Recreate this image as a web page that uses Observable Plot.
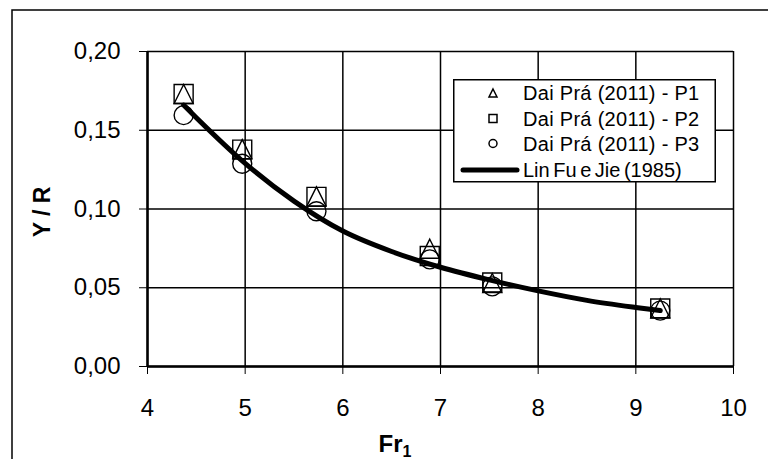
<!DOCTYPE html>
<html><head><meta charset="utf-8">
<script src="https://cdn.jsdelivr.net/npm/d3@7"></script>
<script src="https://cdn.jsdelivr.net/npm/@observablehq/plot@0.6"></script>
<style>
html,body{margin:0;padding:0;background:#fff;}
#wrap{position:relative;width:768px;height:459px;overflow:hidden;font-family:"Liberation Sans",Arial,sans-serif;}
#legend{position:absolute;left:453px;top:79px;}
</style></head><body><div id="wrap"></div>
<script>
// Data
const fr = [4.37, 4.97, 5.73, 6.89, 7.53, 9.25];
const p1 = [0.173, 0.138, 0.108, 0.0748, 0.053, 0.037];
const p2 = [0.173, 0.1377, 0.1077, 0.0702, 0.0533, 0.0368];
const p3 = [0.1596, 0.1287, 0.0986, 0.068, 0.0509, 0.0355];
const curveFr = [4.37, 4.5, 5.0, 5.5, 6.0, 6.5, 7.0, 7.5, 8.0, 8.5, 9.0, 9.25];
const curveYR = [0.166, 0.158, 0.129, 0.105, 0.086, 0.073, 0.063, 0.055, 0.048, 0.042, 0.0375, 0.0355];
const xTicks = [4, 5, 6, 7, 8, 9, 10];
const yTicks = [0, 0.05, 0.10, 0.15, 0.20];
const seriesNames = ["Dai Prá (2011) - P1", "Dai Prá (2011) - P2", "Dai Prá (2011) - P3", "Lin Fu e Jie (1985)"];
const xTitle = "Fr", xTitleSub = "1", yTitle = "Y / R";

const sqSym = {draw(ctx, size){ const r = Math.sqrt(size/Math.PI); ctx.rect(-r,-r,2*r,2*r); }};
const triSym = {draw(ctx, size){ const r = Math.sqrt(size/Math.PI); ctx.moveTo(0,-r); ctx.lineTo(r,r); ctx.lineTo(-r,r); ctx.closePath(); }};
const circSym = {draw(ctx, size){ const r = Math.sqrt(size/Math.PI); ctx.moveTo(r,0); ctx.arc(0,0,r,0,2*Math.PI); }};
const symbols = [triSym, sqSym, circSym];

const series = [p1, p2, p3].map(vals => fr.map((f, i) => ({fr: f, yr: vals[i]})));
const curve = curveFr.map((f, i) => ({fr: f, yr: curveYR[i]}));
const fmtY = d => d.toFixed(2).replace(".", ",");
const fmtX = d => String(d);

const chart = Plot.plot({
  width: 768, height: 459,
  marginLeft: 147, marginRight: 35, marginTop: 51, marginBottom: 93,
  style: {fontFamily: "'Liberation Sans', Arial, sans-serif", fontSize: "24px", color: "#000", background: "#fff", overflow: "visible"},
  x: {domain: [4, 10], ticks: xTicks, tickSize: 8, tickPadding: 24, label: null, tickFormat: fmtX},
  y: {domain: [0, 0.2], ticks: yTicks, tickSize: 8, tickPadding: 19, label: null, tickFormat: fmtY},
  marks: [
    Plot.ruleX(xTicks, {stroke: "#000", strokeWidth: 1.5}),
    Plot.ruleY(yTicks, {stroke: "#000", strokeWidth: 1.5}),
    Plot.ruleX([4], {stroke: "#000", strokeWidth: 2.5}),
    Plot.ruleY([0], {stroke: "#000", strokeWidth: 2.5}),
    ...series.map((s, k) => Plot.dot(s, {x: "fr", y: "yr", symbol: symbols[k], r: 9.5, stroke: "#000", strokeWidth: 1.4, fill: "none"})),
    Plot.line(curve, {x: "fr", y: "yr", stroke: "#000", strokeWidth: 5, curve: "monotone-x"})
  ]
});

const svg = d3.select(chart);
svg.append("rect").attr("x", 12).attr("y", 10).attr("width", 820).attr("height", 520)
  .attr("fill", "none").attr("stroke", "#000").attr("stroke-width", 1.5);
const xl = svg.append("text").attr("x", 395).attr("y", 452).attr("text-anchor", "middle")
  .attr("font-weight", "bold").attr("font-size", 24).attr("fill", "#000");
xl.append("tspan").text(xTitle);
xl.append("tspan").attr("font-size", 16).attr("dy", 5).text(xTitleSub);
svg.append("text").attr("transform", "translate(42,212) rotate(-90)").attr("text-anchor", "middle")
  .attr("dominant-baseline", "central").attr("font-weight", "bold").attr("font-size", 23).attr("fill", "#000").text(yTitle);

document.getElementById("wrap").appendChild(chart);

// Legend
const lg = d3.select("#wrap").append("svg").attr("id", "legend").attr("width", 263).attr("height", 104);
lg.append("rect").attr("x", 0.75).attr("y", 0.75).attr("width", 261.5).attr("height", 102)
  .attr("fill", "#fff").attr("stroke", "#000").attr("stroke-width", 1.5);
const rows = [14, 39.5, 64.5, 91];
seriesNames.forEach((name, i) => {
  const g = lg.append("g");
  if (i < 3) {
    const p = d3.path(); symbols[i].draw(p, Math.PI * 4 * 4);
    g.append("path").attr("d", p.toString()).attr("transform", `translate(40,${rows[i]})`)
      .attr("fill", "none").attr("stroke", "#000").attr("stroke-width", 1.5);
  } else {
    g.append("line").attr("x1", 10).attr("x2", 64).attr("y1", rows[i]).attr("y2", rows[i])
      .attr("stroke", "#000").attr("stroke-width", 5).attr("stroke-linecap", "round");
  }
  g.append("text").attr("x", 70).attr("y", rows[i]).attr("dominant-baseline", "central")
    .attr("font-family", "'Liberation Sans', Arial, sans-serif").attr("font-size", 20)
    .attr("letter-spacing", i < 3 ? 0.3 : 0).attr("word-spacing", i < 3 ? 0 : -2).attr("fill", "#000").text(name);
});
</script></body></html>
